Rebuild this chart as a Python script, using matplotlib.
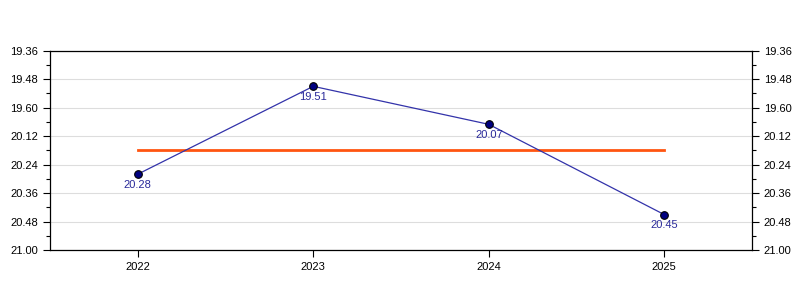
import numpy as np
import matplotlib.pyplot as plt
from matplotlib.ticker import FixedLocator

years = [2022, 2023, 2024, 2025]
times = ["20.28", "19.51", "20.07", "20.45"]
y_tick_labels = ["19.36", "19.48", "19.60", "20.12", "20.24", "20.36", "20.48", "21.00"]


def to_seconds(label):
    # "mm.ss" -> seconds
    m, s = label.split(".")
    return int(m) * 60 + int(s)


plt.rcParams["font.family"] = ["Liberation Sans", "DejaVu Sans"]

secs = np.array([to_seconds(t) for t in times])
tick_secs = np.array([to_seconds(t) for t in y_tick_labels])
mean_secs = secs.mean()

fig = plt.figure(figsize=(8, 3), dpi=100)
ax = fig.add_axes([0.0625, 0.166, 0.8775, 0.665])

ax.plot([years[0], years[-1]], [mean_secs, mean_secs], color="#ff5511", lw=2, zorder=2)
ax.plot(years, secs, color="#3333aa", lw=0.9, zorder=3)
ax.plot(years, secs, "o", ms=5.5, mfc="#000080", mec="black", mew=0.8, zorder=4)
for x, y, t in zip(years, secs, times):
    ax.annotate(t, (x, y), xytext=(0, -4), textcoords="offset points",
                ha="center", va="top", fontsize=8, color="#2a2a9a")

ax.set_xlim(years[0] - 0.5, years[-1] + 0.5)
ax.set_xticks(years)
ax.set_xticklabels([str(y) for y in years])
ax.set_ylim(tick_secs[-1], tick_secs[0])
ax.set_yticks(tick_secs)
ax.set_yticklabels(y_tick_labels)
ax.yaxis.set_minor_locator(FixedLocator((tick_secs[:-1] + tick_secs[1:]) / 2))
ax.yaxis.grid(True, color="#dddddd", lw=0.8)
ax.set_axisbelow(True)

ax.tick_params(axis="both", which="major", direction="out", length=5, width=0.8,
               labelsize=8, colors="black")
ax.tick_params(axis="y", which="both", left=True, right=True, labelright=True)
ax.tick_params(axis="y", which="minor", length=3, width=0.8)
for s in ax.spines.values():
    s.set_linewidth(0.9)

fig.savefig("out.png", dpi=100)
